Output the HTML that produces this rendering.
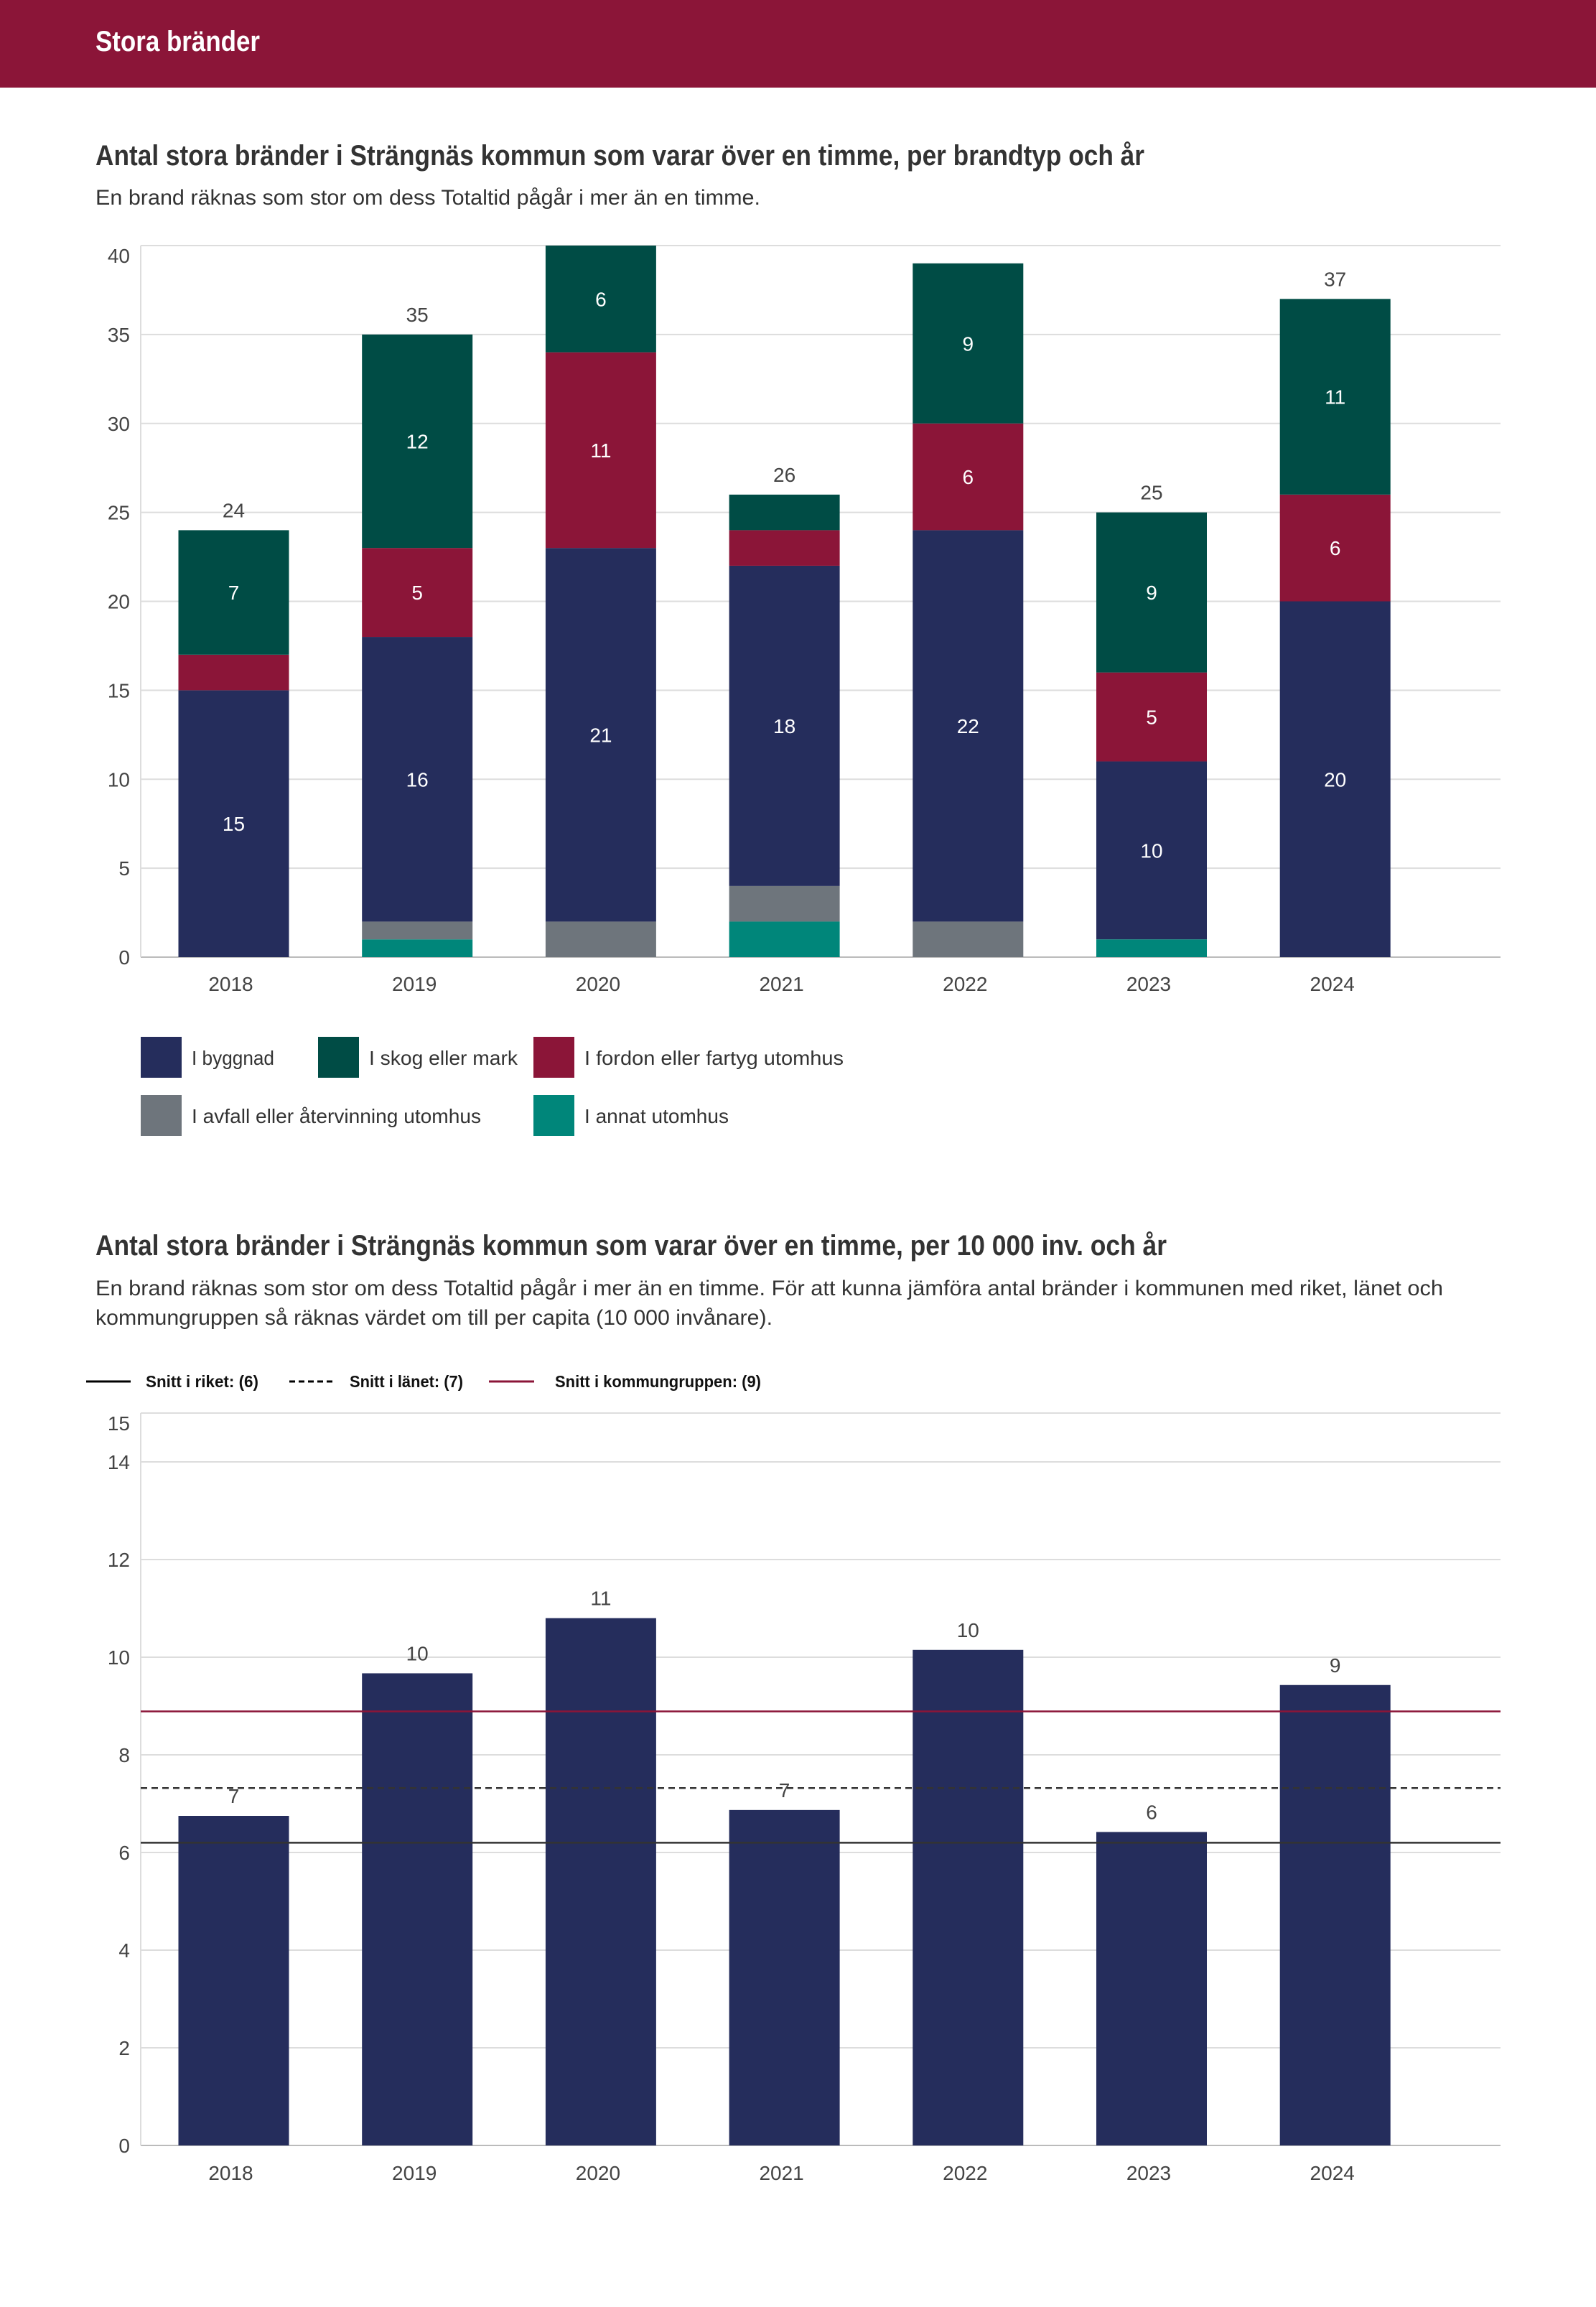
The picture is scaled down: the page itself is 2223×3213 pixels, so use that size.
<!DOCTYPE html>
<html><head><meta charset="utf-8"><style>
html,body{margin:0;padding:0;background:#fff;}
svg{display:block;font-family:"Liberation Sans",sans-serif;}
</style></head><body>
<svg id="page" width="2223" height="3213" viewBox="0 0 2223 3213" xmlns="http://www.w3.org/2000/svg">
<rect x="0" y="0" width="2223" height="122" fill="#8b1538"/>
<text x="133" y="71" font-size="40" font-weight="bold" fill="#fff" textLength="229" lengthAdjust="spacingAndGlyphs">Stora bränder</text>
<text x="133" y="230" font-size="40" font-weight="bold" fill="#333" textLength="1461" lengthAdjust="spacingAndGlyphs">Antal stora bränder i Strängnäs kommun som varar över en timme, per brandtyp och år</text>
<text x="133" y="285" font-size="30" fill="#333" textLength="926" lengthAdjust="spacingAndGlyphs">En brand räknas som stor om dess Totaltid pågår i mer än en timme.</text>
<g id="c1"></g>
<g id="leg1"></g>
<text x="133" y="1748" font-size="40" font-weight="bold" fill="#333" textLength="1492" lengthAdjust="spacingAndGlyphs">Antal stora bränder i Strängnäs kommun som varar över en timme, per 10 000 inv. och år</text>
<text x="133" y="1804" font-size="30" fill="#333" textLength="1877" lengthAdjust="spacingAndGlyphs">En brand räknas som stor om dess Totaltid pågår i mer än en timme. För att kunna jämföra antal bränder i kommunen med riket, länet och</text>
<text x="133" y="1845" font-size="30" fill="#333" textLength="943" lengthAdjust="spacingAndGlyphs">kommungruppen så räknas värdet om till per capita (10 000 invånare).</text>
<g id="leg2"></g>
<g id="c2"></g>
</svg>
<script>
const years = ["2018","2019","2020","2021","2022","2023","2024"];
const annat    = [0,1,0,2,0,1,0];
const avfall   = [0,1,2,2,2,0,0];
const byggnad  = [15,16,21,18,22,10,20];
const fordon   = [2,5,11,2,6,5,6];
const skog     = [7,12,6,2,9,9,11];
const ticks1 = [0,5,10,15,20,25,30,35,40];
const perCapita = [6.75,9.67,10.8,6.87,10.15,6.42,9.43];
const perCapitaLabels = ["7","10","11","7","10","6","9"];
const ticks2 = [0,2,4,6,8,10,12,14,15];
const avgRiket = 6.2;
const avgLanet = 7.32;
const avgGrupp = 8.89;

const NS = "http://www.w3.org/2000/svg";
function mk(tag, attrs, parent, txt){
  const e = document.createElementNS(NS, tag);
  for (const k in attrs) e.setAttribute(k, attrs[k]);
  if (txt !== undefined) e.textContent = txt;
  parent.appendChild(e);
  return e;
}
const L = 196, R = 2090, step = 255.7, barW = 154, firstC = 325.5;
function xC(i){ return firstC + i*step; }

// Chart 1
const c1 = document.getElementById('c1');
const y1 = v => 1333 - v*(991/40);
ticks1.forEach(t=>{
  const g = mk('line',{x1:L,x2:R,y1:y1(t),y2:y1(t),stroke: t===0?'#bbb':'#ddd','stroke-width':2},c1);
  
  
  const ty = t===40 ? y1(t)+24 : y1(t)+10;
  const tl = mk('text',{x:181,y:ty,'font-size':28,fill:'#444','text-anchor':'end'},c1,String(t));
  
  
});
const ax1 = mk('line',{x1:L,x2:L,y1:y1(40),y2:y1(0),stroke:'#ddd','stroke-width':2},c1);


const series = [
  {name:'annat', vals:annat, color:'#00867a'},
  {name:'avfall', vals:avfall, color:'#6e757c'},
  {name:'byggnad', vals:byggnad, color:'#252d5c'},
  {name:'fordon', vals:fordon, color:'#8b1538'},
  {name:'skog', vals:skog, color:'#004c45'}
];
years.forEach((yr,i)=>{
  let base = 0;
  series.forEach(s=>{
    const v = s.vals[i];
    if (v>0){
      const r = mk('rect',{x:xC(i)-barW/2,y:y1(base+v),width:barW,height:y1(base)-y1(base+v),fill:s.color},c1);
      
      
      if (v>=5){
        const t = mk('text',{x:xC(i),y:y1(base+v/2)+10,'font-size':28,fill:'#fff','text-anchor':'middle'},c1,String(v));
        
        
      }
    }
    base += v;
  });
  if (base<=38){
    const tt = mk('text',{x:xC(i),y:y1(base)-18,'font-size':28,fill:'#444','text-anchor':'middle'},c1,String(base));
    
    
  }
  const xl = mk('text',{x:xC(i)-4,y:1380,'font-size':28,fill:'#444','text-anchor':'middle'},c1,yr);
  
  
});

// Legend 1
const leg1 = document.getElementById('leg1');
const legItems = [
  {label:'I byggnad', color:'#252d5c', x:196, y:1444, w:115},
  {label:'I skog eller mark', color:'#004c45', x:443, y:1444, w:207},
  {label:'I fordon eller fartyg utomhus', color:'#8b1538', x:743, y:1444, w:361},
  {label:'I avfall eller återvinning utomhus', color:'#6e757c', x:196, y:1525, w:403},
  {label:'I annat utomhus', color:'#00867a', x:743, y:1525, w:201}
];
legItems.forEach(it=>{
  const g = mk('g',{},leg1);
  
  
  mk('rect',{x:it.x,y:it.y,width:57,height:57,fill:it.color},g);
  mk('text',{x:it.x+71,y:it.y+39,'font-size':28,fill:'#333',textLength:it.w,lengthAdjust:'spacingAndGlyphs'},g,it.label);
});

// Legend 2
const leg2 = document.getElementById('leg2');
const l2 = [
  {label:'Snitt i riket: (6)', x1:120, x2:182, tx:203, w:157, stroke:'#000', dash:''},
  {label:'Snitt i länet: (7)', x1:403, x2:463, tx:487, w:158, stroke:'#000', dash:'8,5'},
  {label:'Snitt i kommungruppen: (9)', x1:681, x2:744, tx:773, w:287, stroke:'#8b1538', dash:''}
];
l2.forEach(it=>{
  const g = mk('g',{},leg2);
  
  
  const ln = mk('line',{x1:it.x1,x2:it.x2,y1:1924,y2:1924,stroke:it.stroke,'stroke-width':3},g);
  if (it.dash) ln.setAttribute('stroke-dasharray',it.dash);
  mk('text',{x:it.tx,y:1932,'font-size':23,'font-weight':'bold',fill:'#111',textLength:it.w,lengthAdjust:'spacingAndGlyphs'},g,it.label);
});

// Chart 2
const c2 = document.getElementById('c2');
const y2 = v => 2988 - v*68;
ticks2.forEach(t=>{
  const g = mk('line',{x1:L,x2:R,y1:y2(t),y2:y2(t),stroke: t===0?'#bbb':'#ddd','stroke-width':2},c2);
  
  
  const ty = t===15 ? y2(t)+24 : y2(t)+10;
  const tl = mk('text',{x:181,y:ty,'font-size':28,fill:'#444','text-anchor':'end'},c2,String(t));
  
  
});
const ax2 = mk('line',{x1:L,x2:L,y1:y2(15),y2:y2(0),stroke:'#ddd','stroke-width':2},c2);


years.forEach((yr,i)=>{
  const v = perCapita[i];
  const r = mk('rect',{x:xC(i)-barW/2,y:y2(v),width:barW,height:y2(0)-y2(v),fill:'#252d5c'},c2);
  
  
  const t = mk('text',{x:xC(i),y:y2(v)-18,'font-size':28,fill:'#444','text-anchor':'middle'},c2,perCapitaLabels[i]);
  
  
  const xl = mk('text',{x:xC(i)-4,y:3036,'font-size':28,fill:'#444','text-anchor':'middle'},c2,yr);
  
  
});
const lr = mk('line',{x1:L,x2:R,y1:y2(avgRiket),y2:y2(avgRiket),stroke:'#333','stroke-width':2.5},c2);


const ll = mk('line',{x1:L,x2:R,y1:y2(avgLanet),y2:y2(avgLanet),stroke:'#333','stroke-width':2.5,'stroke-dasharray':'9,6'},c2);


const lg = mk('line',{x1:L,x2:R,y1:y2(avgGrupp),y2:y2(avgGrupp),stroke:'#8b1538','stroke-width':2.5},c2);


</script>
</body></html>
